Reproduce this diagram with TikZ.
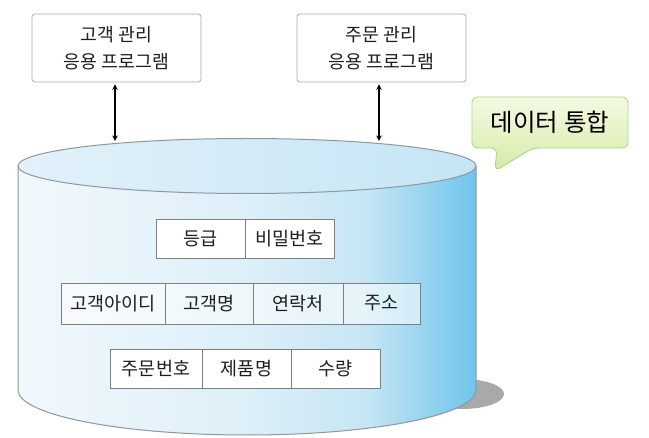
\documentclass[tikz,border=0pt]{standalone}
\usepackage{fontspec}
\newfontfamily\kr{Noto Sans CJK KR}
\usetikzlibrary{arrows.meta}
\definecolor{cA}{HTML}{F1F8FC}
\definecolor{cB}{HTML}{DDEFF8}
\definecolor{cC}{HTML}{C6E6F5}
\definecolor{cD}{HTML}{6FC4EB}
\definecolor{topA}{HTML}{E2F1FA}
\definecolor{topB}{HTML}{C5E5F5}
\definecolor{rimgray}{HTML}{8E979C}
\definecolor{cellgray}{HTML}{7F7F7F}
\definecolor{boxgray}{HTML}{A9A9A9}
\definecolor{shadowgray}{HTML}{A9A9A9}
\definecolor{calTop}{HTML}{F4FAE4}
\definecolor{calBot}{HTML}{D6EBA6}
\definecolor{calLine}{HTML}{B3D487}
\definecolor{txt}{HTML}{1E1E1E}
\pgfdeclarehorizontalshading{cylshade}{100bp}{color(0bp)=(cA); color(25bp)=(cA); color(50bp)=(cB); color(63bp)=(cC); color(75bp)=(cD); color(100bp)=(cD)}
\tikzset{
  appbox/.style={draw=boxgray, line width=0.8pt, rounded corners=3pt, fill=white,
    minimum width=169pt, minimum height=68pt, inner sep=0pt, align=center,
    text=txt, font=\kr\fontsize{18.3}{27}\selectfont},
  cell/.style={draw=cellgray, line width=0.8pt, fill=white, inner sep=0pt,
    text=txt, font=\kr\fontsize{18.5}{20}\selectfont},
  tcell/.style={cell, fill opacity=0.55, text opacity=1},
  rimline/.style={draw=rimgray, line width=1pt},
  biarrow/.style={line width=1.6pt, draw=black,
    {Stealth[length=5.5pt,width=5.5pt]}-{Stealth[length=5.5pt,width=5.5pt]}, shorten <=2pt}
}
\begin{document}
\begin{tikzpicture}[x=1pt, y=-1pt]
\useasboundingbox (0,0) rectangle (649,438);
% shadow
\fill[shadowgray] (462,394) ellipse [x radius=42, y radius=15];
% cylinder body
\path[shading=cylshade] (18,166) -- (18,390) arc[start angle=180, end angle=0, x radius=229, y radius=45] -- (476,166) -- cycle;
\draw[rimline] (18,166) -- (18,390) arc[start angle=180, end angle=0, x radius=229, y radius=45] -- (476,166);
% top
\draw[rimline, left color=topA, right color=topB] (247,166) ellipse [x radius=229, y radius=27.5];
\coordinate (t1) at (115,141);
\coordinate (t2) at (379,141);
% app boxes
\node[appbox] (app1) at (116.5,48) {고객 관리\\응용 프로그램};
\node[appbox] (app2) at (381.5,48) {주문 관리\\응용 프로그램};
\draw[biarrow] (app1.south -| t1) -- (t1);
\draw[biarrow] (app2.south -| t2) -- (t2);
% callout
\draw[calLine, line width=0.9pt, top color=calTop, bottom color=calBot, rounded corners=6pt]
  (495,171) -- (497,148) -- (472,148) -- (472,97) -- (628,97) -- (628,148) -- (533,148) -- cycle;
\node[text=black, font=\kr\fontsize{24.5}{28}\selectfont] (cal) at (550,122.5) {데이터 통합};
% row 1
\node[cell, minimum width=89pt, minimum height=39pt] (f11) at (200.5,238.5) {등급};
\node[cell, minimum width=89pt, minimum height=39pt] (f12) at (289.5,238.5) {비밀번호};
% row 2
\node[tcell, minimum width=104pt, minimum height=41pt] (f21) at (113,303.5) {고객아이디};
\node[tcell, minimum width=88pt, minimum height=41pt] (f22) at (209,303.5) {고객명};
\node[tcell, minimum width=90pt, minimum height=41pt] (f23) at (298,303.5) {연락처};
\node[tcell, minimum width=77pt, minimum height=41pt] (f24) at (381.5,303.5) {주소};
% row 3
\node[cell, minimum width=92pt, minimum height=39pt] (f31) at (156,368.5) {주문번호};
\node[cell, minimum width=89pt, minimum height=39pt] (f32) at (246.5,368.5) {제품명};
\node[cell, minimum width=89pt, minimum height=39pt] (f33) at (335.5,368.5) {수량};
\end{tikzpicture}
\end{document}
